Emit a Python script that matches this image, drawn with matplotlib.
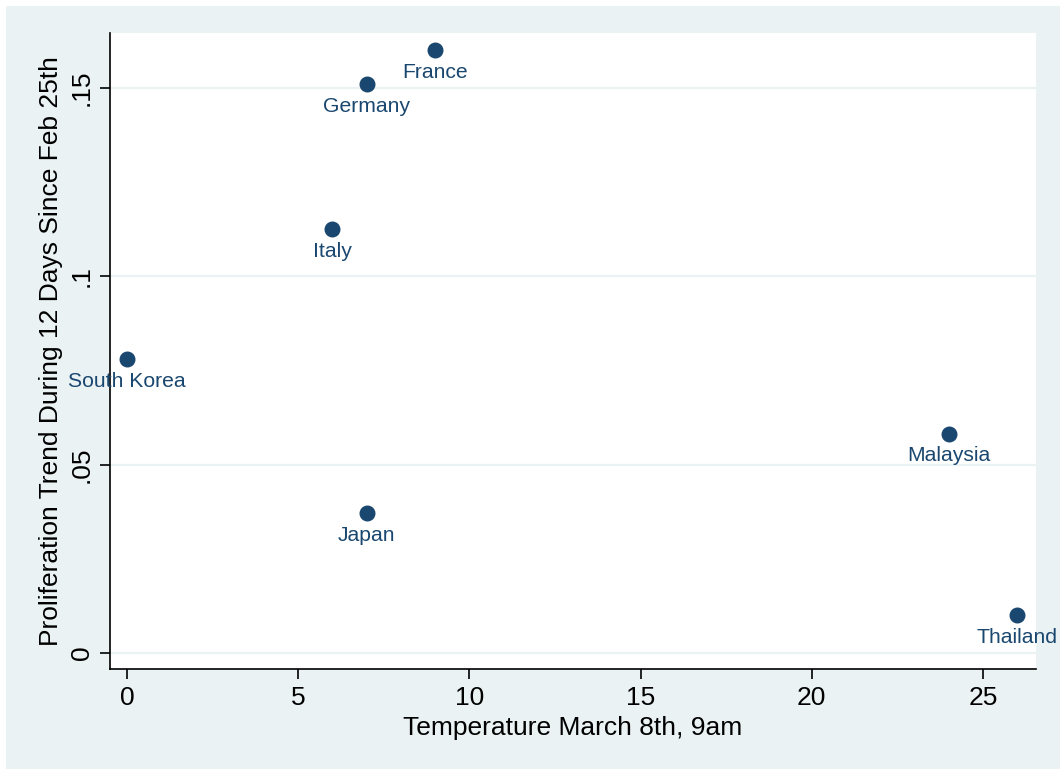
import matplotlib.pyplot as plt
from matplotlib.patches import Rectangle

plt.rcParams['font.family'] = ['Liberation Sans', 'DejaVu Sans']

# data
countries = ['France', 'Germany', 'Italy', 'South Korea', 'Malaysia', 'Japan', 'Thailand']
temperature = [9, 7, 6, 0, 24, 7, 26]
trend = [0.1601, 0.1511, 0.1126, 0.0781, 0.0582, 0.0372, 0.0101]

xticks = [0, 5, 10, 15, 20, 25]
yticks = [0, 0.05, 0.1, 0.15]
ytick_labels = ['0', '.05', '.1', '.15']

navy = '#1a476f'
bg = '#eaf2f3'

fig = plt.figure(figsize=(10.6, 7.69), dpi=100)
fig.patch.set_facecolor('white')
fig.patches.append(Rectangle((6 / 1060, 0), 1 - 6 / 1060, 1 - 6 / 769,
                             transform=fig.transFigure, facecolor=bg,
                             edgecolor='none', zorder=-10))

ax = fig.add_axes([110 / 1060, 100 / 769, 926 / 1060, 636 / 769])
ax.set_facecolor('white')

ax.scatter(temperature, trend, s=110, color=navy, zorder=3, clip_on=False)
for name, x, y in zip(countries, temperature, trend):
    ax.annotate(name, (x, y), xytext=(0, -16), textcoords='offset points',
                ha='center', va='center', fontsize=15.2, color=navy,
                annotation_clip=False, zorder=4)

ax.set_xlim(-0.4965, 26.55)
ax.set_ylim(-0.00425, 0.1646)
ax.set_xticks(xticks)
ax.set_yticks(yticks)
ax.set_yticklabels(ytick_labels, rotation=90, va='center')
ax.tick_params(axis='both', labelsize=19, length=7.5, width=1.2, pad=5, color='black')
ax.tick_params(axis='y', pad=4)

ax.grid(axis='y', color=bg, linewidth=1.6)
ax.set_axisbelow(True)
for side in ['top', 'right']:
    ax.spines[side].set_visible(False)
for side in ['left', 'bottom']:
    ax.spines[side].set_linewidth(1.2)

ax.set_xlabel('Temperature March 8th, 9am', fontsize=19, labelpad=4)
ax.set_ylabel('Proliferation Trend During 12 Days Since Feb 25th', fontsize=19, labelpad=5)

fig.savefig('out.png', dpi=100, facecolor=fig.get_facecolor())
